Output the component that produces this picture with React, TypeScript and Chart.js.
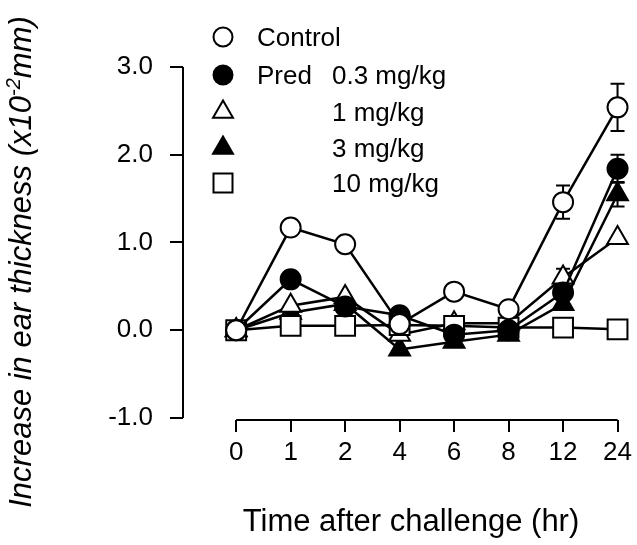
import React, { useEffect, useRef } from "react";
import { Chart, registerables } from "chart.js";

Chart.register(...registerables);

// ---- data ----
const TIME_LABELS = ["0", "1", "2", "4", "6", "8", "12", "24"];
const Y_TICKS = [-1, 0, 1, 2, 3];

const CONTROL = [0, 1.17, 0.98, 0.07, 0.44, 0.24, 1.46, 2.54];
const PRED_03 = [0, 0.58, 0.27, 0.17, -0.05, 0.0, 0.43, 1.84];
const PRED_1 = [0, 0.28, 0.38, -0.05, 0.08, 0.08, 0.6, 1.05];
const PRED_3 = [0, 0.2, 0.3, -0.22, -0.13, -0.05, 0.3, 1.55];
const PRED_10 = [0, 0.05, 0.05, 0.06, 0.05, 0.03, 0.03, 0.01];

const CONTROL_ERR = [0, 0, 0, 0, 0, 0, 0.19, 0.27];
const PRED_03_ERR = [0, 0, 0, 0, 0, 0, 0, 0.16];
const PRED_1_ERR = [0, 0, 0, 0, 0, 0, 0.1, 0];
const PRED_3_ERR = [0, 0, 0, 0, 0, 0, 0, 0.14];
const PRED_10_ERR = [0, 0, 0, 0, 0, 0, 0, 0];

const X_TITLE = "Time after challenge (hr)";
const Y_TITLE_MAIN = "Increase in ear thickness (x10";
const Y_TITLE_SUP = "-2";
const Y_TITLE_END = "mm)";

const LEGEND_ROWS = [
  { name: "Control", dose: "", style: "circle", fill: "#fff" },
  { name: "Pred", dose: "0.3 mg/kg", style: "circle", fill: "#000" },
  { name: "", dose: "1 mg/kg", style: "triangle", fill: "#fff" },
  { name: "", dose: "3 mg/kg", style: "triangle", fill: "#000" },
  { name: "", dose: "10 mg/kg", style: "rect", fill: "#fff" },
];

const FONT = "'Liberation Sans', Arial, Helvetica, sans-serif";

const toPts = (vals: number[]) => vals.map((v, i) => ({ x: i, y: v }));

function drawMarker(ctx: CanvasRenderingContext2D, style: string, x: number, y: number, fill: string) {
  ctx.save();
  ctx.beginPath();
  if (style === "circle") {
    ctx.arc(x, y, 9.5, 0, Math.PI * 2);
  } else if (style === "triangle") {
    const r = 11.5;
    ctx.moveTo(x, y - r);
    ctx.lineTo(x + r * Math.sin(Math.PI / 3), y + r / 2);
    ctx.lineTo(x - r * Math.sin(Math.PI / 3), y + r / 2);
    ctx.closePath();
  } else {
    ctx.rect(x - 9.5, y - 9.5, 19, 19);
  }
  ctx.fillStyle = fill;
  ctx.fill();
  ctx.lineWidth = 2;
  ctx.strokeStyle = "#000";
  ctx.stroke();
  ctx.restore();
}

const customPlugin = {
  id: "customDecor",
  beforeDatasetsDraw(chart: any) {
    const ctx = chart.ctx as CanvasRenderingContext2D;
    const xs = chart.scales.x;
    const ys = chart.scales.y;
    const errs = [CONTROL_ERR, PRED_03_ERR, PRED_1_ERR, PRED_3_ERR, PRED_10_ERR];
    const vals = [CONTROL, PRED_03, PRED_1, PRED_3, PRED_10];
    ctx.save();
    ctx.strokeStyle = "#000";
    ctx.lineWidth = 2;
    errs.forEach((err, d) => {
      err.forEach((e, i) => {
        if (!e) return;
        const px = xs.getPixelForValue(i);
        const top = ys.getPixelForValue(vals[d][i] + e);
        const bot = ys.getPixelForValue(vals[d][i] - e);
        ctx.beginPath();
        ctx.moveTo(px, top);
        ctx.lineTo(px, bot);
        ctx.moveTo(px - 7, top);
        ctx.lineTo(px + 7, top);
        ctx.moveTo(px - 7, bot);
        ctx.lineTo(px + 7, bot);
        ctx.stroke();
      });
    });
    ctx.restore();
  },
  afterDraw(chart: any) {
    const ctx = chart.ctx as CanvasRenderingContext2D;
    const xs = chart.scales.x;
    const ys = chart.scales.y;
    const area = chart.chartArea;
    ctx.save();
    ctx.strokeStyle = "#000";
    ctx.lineWidth = 2;
    // y axis line
    ctx.beginPath();
    ctx.moveTo(area.left, ys.getPixelForValue(Y_TICKS[Y_TICKS.length - 1]));
    ctx.lineTo(area.left, ys.getPixelForValue(Y_TICKS[0]));
    ctx.stroke();
    // x axis line (detached)
    ctx.beginPath();
    ctx.moveTo(xs.getPixelForValue(0), area.bottom);
    ctx.lineTo(xs.getPixelForValue(TIME_LABELS.length - 1), area.bottom);
    ctx.stroke();

    ctx.fillStyle = "#000";
    // x title
    ctx.font = `31px ${FONT}`;
    ctx.textAlign = "center";
    ctx.textBaseline = "alphabetic";
    ctx.fillText(X_TITLE, 411, 531);

    // y title (rotated, italic, with superscript)
    ctx.save();
    ctx.translate(31, 262);
    ctx.rotate(-Math.PI / 2);
    ctx.textAlign = "left";
    const mainFont = `italic 31px ${FONT}`;
    const supFont = `italic 20px ${FONT}`;
    ctx.font = mainFont;
    const w1 = ctx.measureText(Y_TITLE_MAIN).width;
    const w3 = ctx.measureText(Y_TITLE_END).width;
    ctx.font = supFont;
    const w2 = ctx.measureText(Y_TITLE_SUP).width;
    let cx = -(w1 + w2 + w3) / 2;
    ctx.font = mainFont;
    ctx.fillText(Y_TITLE_MAIN, cx, 0);
    cx += w1;
    ctx.font = supFont;
    ctx.fillText(Y_TITLE_SUP, cx, -11);
    cx += w2;
    ctx.font = mainFont;
    ctx.fillText(Y_TITLE_END, cx, 0);
    ctx.restore();

    // legend
    const rowY = [37, 75, 112, 148, 183];
    ctx.font = `26px ${FONT}`;
    ctx.textAlign = "left";
    ctx.textBaseline = "alphabetic";
    LEGEND_ROWS.forEach((row, i) => {
      drawMarker(ctx, row.style, 223, rowY[i], row.fill);
      ctx.fillStyle = "#000";
      if (row.name) ctx.fillText(row.name, 257, rowY[i] + 9);
      if (row.dose) ctx.fillText(row.dose, 332, rowY[i] + 9);
    });
    ctx.restore();
  },
};

export default function App() {
  const ref = useRef<HTMLCanvasElement | null>(null);

  useEffect(() => {
    if (!ref.current) return;
    const mk = (label: string, vals: number[], style: string, fill: string, radius: number, order: number) => ({
      label,
      data: toPts(vals),
      borderColor: "#000",
      borderWidth: 2.5,
      pointStyle: style,
      pointRadius: radius,
      pointBackgroundColor: fill,
      pointBorderColor: "#000",
      pointBorderWidth: 2,
      showLine: true,
      fill: false,
      tension: 0,
      order,
      clip: false as any,
    });
    const chart = new Chart(ref.current, {
      type: "line",
      data: {
        datasets: [
          mk("Control", CONTROL, "circle", "#fff", 10, 0),
          mk("Pred 0.3 mg/kg", PRED_03, "circle", "#000", 10, 1),
          mk("1 mg/kg", PRED_1, "triangle", "#fff", 12, 3),
          mk("3 mg/kg", PRED_3, "triangle", "#000", 12, 4),
          mk("10 mg/kg", PRED_10, "rect", "#fff", 14, 2),
        ] as any,
      },
      options: {
        responsive: false,
        animation: false,
        devicePixelRatio: 1,
        layout: { padding: { top: 67, right: 14, left: 0, bottom: 0 } },
        plugins: { legend: { display: false }, tooltip: { enabled: false }, title: { display: false } },
        scales: {
          x: {
            type: "linear",
            min: -0.976,
            max: TIME_LABELS.length - 1,
            afterBuildTicks: (s: any) => {
              s.ticks = TIME_LABELS.map((_, i) => ({ value: i }));
            },
            afterFit: (s: any) => {
              s.height = 125;
            },
            border: { display: false },
            grid: { display: true, drawOnChartArea: false, drawTicks: true, tickLength: 12, color: "#000", lineWidth: 2 },
            ticks: {
              color: "#000",
              font: { family: FONT, size: 26 },
              padding: 5,
              maxRotation: 0,
              autoSkip: false,
              callback: (v: any) => TIME_LABELS[Math.round(Number(v))] ?? "",
            },
          },
          y: {
            type: "linear",
            min: -1.0228,
            max: 3,
            afterBuildTicks: (s: any) => {
              s.ticks = Y_TICKS.map((v) => ({ value: v }));
            },
            afterFit: (s: any) => {
              s.width = 183;
            },
            border: { display: false },
            grid: { display: true, drawOnChartArea: false, drawTicks: true, tickLength: 13, color: "#000", lineWidth: 2 },
            ticks: {
              color: "#000",
              font: { family: FONT, size: 26 },
              padding: 17,
              callback: (v: any) => Number(v).toFixed(1),
            },
          },
        },
      },
      plugins: [customPlugin as any],
    });
    return () => chart.destroy();
  }, []);

  return (
    <div style={{ position: "fixed", left: 0, top: 0, width: 637, height: 545, background: "#fff" }}>
      <canvas ref={ref} width={637} height={545} style={{ display: "block", width: 637, height: 545 }} />
    </div>
  );
}
